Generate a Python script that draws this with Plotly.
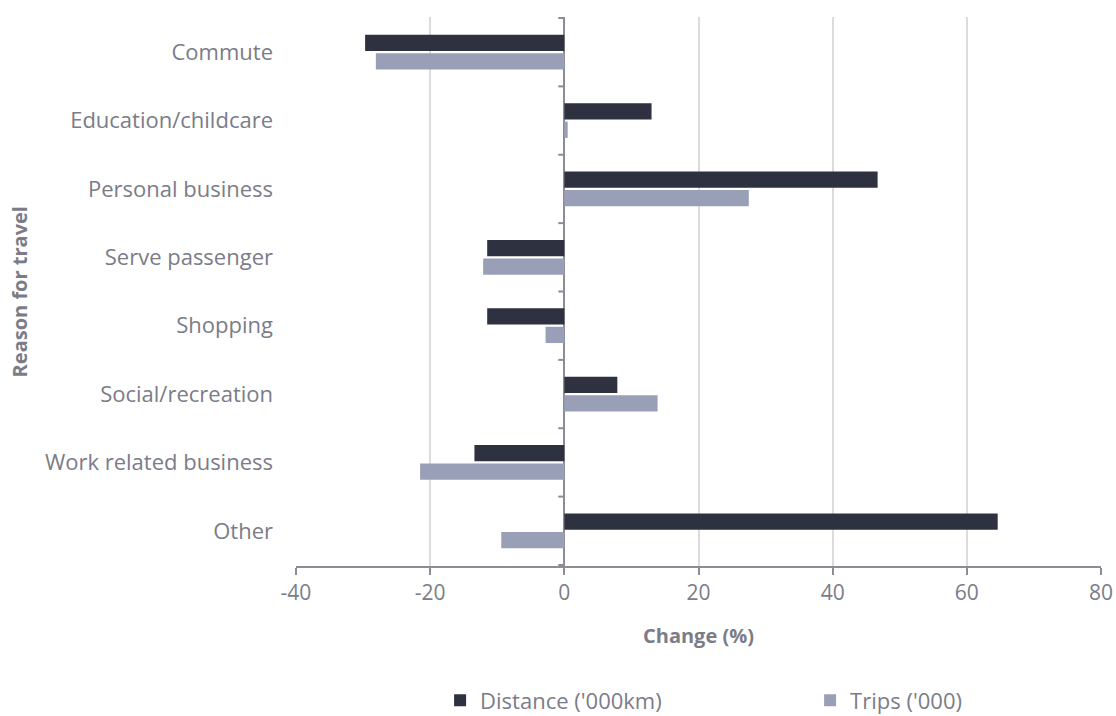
import plotly.graph_objects as go

categories = ["Commute", "Education/childcare", "Personal business", "Serve passenger",
              "Shopping", "Social/recreation", "Work related business", "Other"]
distance = [-29.7, 13.0, 46.7, -11.5, -11.5, 7.9, -13.4, 64.6]
trips = [-28.1, 0.5, 27.5, -12.1, -2.8, 13.9, -21.5, -9.4]
x_ticks = [-40, -20, 0, 20, 40, 60, 80]

TXT = "#7b7c88"
AX = "#8c8c94"
FONT = "Open Sans"

fig = go.Figure()
fig.add_trace(go.Bar(y=categories, x=distance, orientation="h", name="Distance ('000km)",
                     marker=dict(color="#2e3140", line=dict(width=0))))
fig.add_trace(go.Bar(y=categories, x=trips, orientation="h", name="Trips ('000)",
                     marker=dict(color="#9a9fb8", line=dict(width=0))))

# tick marks on the zero (category) axis at category boundaries
shapes = []
for i in range(len(categories) + 1):
    shapes.append(dict(type="line", xref="x", yref="y", x0=-0.9, x1=0,
                       y0=i - 0.5, y1=i - 0.5, line=dict(color=AX, width=2)))

fig.update_layout(
    width=1116, height=716,
    margin=dict(l=296, r=15, t=17, b=150, autoexpand=False),
    paper_bgcolor="white", plot_bgcolor="white",
    barmode="group", bargap=0.46, bargroupgap=0.12,
    font=dict(family=FONT, color=TXT, size=20),
    shapes=shapes,
    xaxis=dict(range=[-40, 80], tickvals=x_ticks, ticktext=[str(v) for v in x_ticks],
               showgrid=True, gridcolor="#dcdcdc", gridwidth=1.5,
               zeroline=True, zerolinecolor=AX, zerolinewidth=2,
               showline=True, linecolor=AX, linewidth=2,
               ticks="outside", tickcolor=AX, ticklen=7, tickwidth=2,
               tickfont=dict(size=21, color=TXT, family=FONT), fixedrange=True),
    yaxis=dict(autorange="reversed", showgrid=False, zeroline=False, showline=False,
               ticks="", ticklabelstandoff=22,
               tickfont=dict(size=22, color=TXT, family=FONT)),
    legend=dict(orientation="h", x=0.179, xanchor="left", y=-0.245, yanchor="middle",
                font=dict(size=22, color=TXT, family=FONT),
                entrywidth=325, entrywidthmode="pixels", traceorder="normal"),
    annotations=[
        dict(text="<b>Change (%)</b>", xref="paper", yref="paper", x=0.5, y=-0.126,
             xanchor="center", yanchor="middle", showarrow=False,
             font=dict(size=20, color=TXT, family=FONT)),
        dict(text="<b>Reason for travel</b>", xref="paper", yref="paper", x=-0.343, y=0.5,
             xanchor="center", yanchor="middle", showarrow=False, textangle=-90,
             font=dict(size=20, color=TXT, family=FONT)),
    ],
)

fig.write_html("out.html")
